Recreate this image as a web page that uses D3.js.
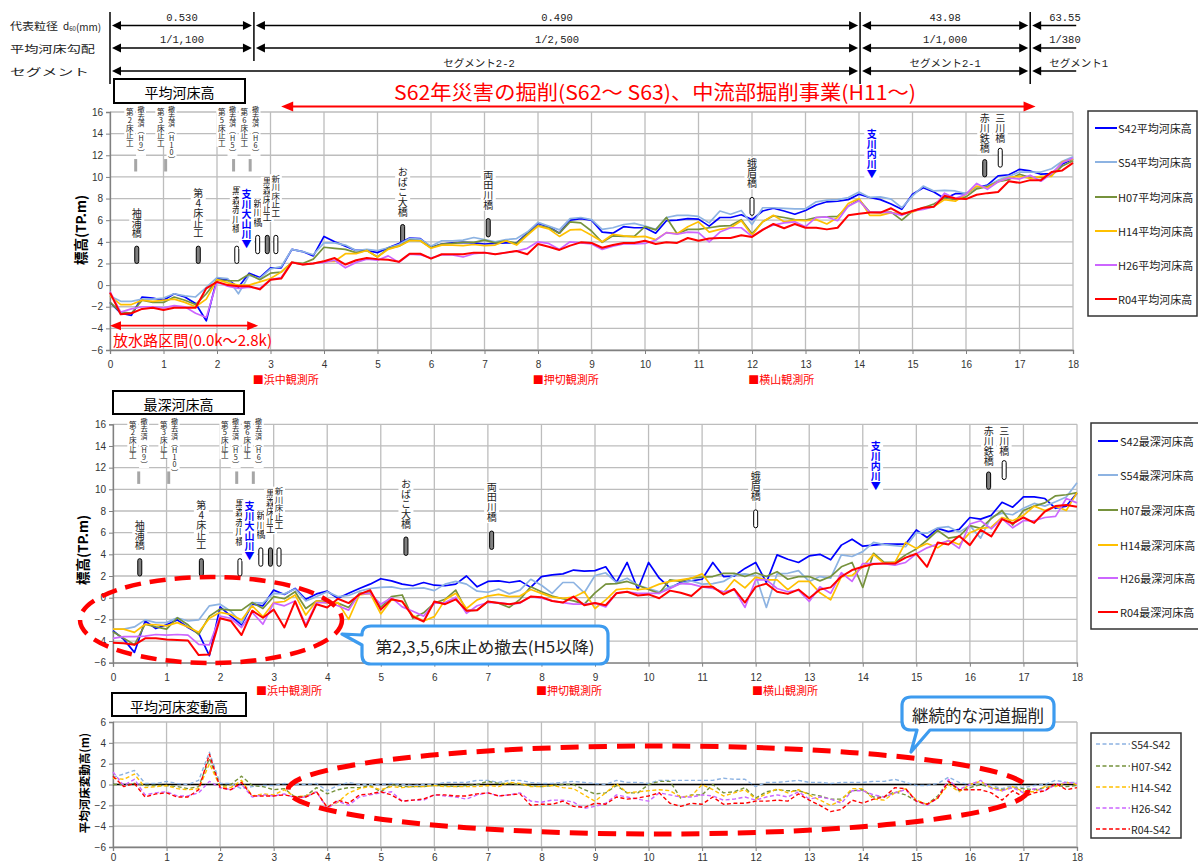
<!DOCTYPE html>
<html lang="ja">
<head>
<meta charset="utf-8">
<title>河床高縦断図</title>
<script src="https://cdn.jsdelivr.net/npm/d3@7/dist/d3.min.js"></script>
<style>
  html, body { margin: 0; padding: 0; background: #fff; }
  svg { display: block; }
  text { font-family: "Noto Sans CJK JP", "Noto Sans", sans-serif; }
  text.vert { writing-mode: vertical-rl; text-orientation: upright; }
</style>
</head>
<body>
<svg id="fig" width="1198" height="865"></svg>
<script>
// ---------------------------------------------------------------
// 距離標 (km)
const distanceKm = [
  0, 0.2, 0.4, 0.6, 0.8,  1, 1.2, 1.4, 1.6, 1.8,
  2, 2.2, 2.4, 2.6, 2.8,  3, 3.2, 3.4, 3.6, 3.8,
  4, 4.2, 4.4, 4.6, 4.8,  5, 5.2, 5.4, 5.6, 5.8,
  6, 6.2, 6.4, 6.6, 6.8,  7, 7.2, 7.4, 7.6, 7.8,
  8, 8.2, 8.4, 8.6, 8.8,  9, 9.2, 9.4, 9.6, 9.8,
  10, 10.2, 10.4, 10.6, 10.8,  11, 11.2, 11.4, 11.6, 11.8,
  12, 12.2, 12.4, 12.6, 12.8,  13, 13.2, 13.4, 13.6, 13.8,
  14, 14.2, 14.4, 14.6, 14.8,  15, 15.2, 15.4, 15.6, 15.8,
  16, 16.2, 16.4, 16.6, 16.8,  17, 17.2, 17.4, 17.6, 17.8,
  18
];

// 平均河床高 (T.P.m) — one row per km
const avgS42 = [
  -1.6, -2.6, -2.8, -1.1, -1.2,  -1.4, -0.8, -1.1, -1.7, -3.3,
  0.6, 0.5, -0.2, 1.1, 0.7,      1.6, 1.6, 3.3, 3.1, 2.7,
  4.5, 4.0, 3.6, 3.2, 3.2,       3.0, 3.45, 3.85, 4.35, 4.3,
  3.5, 3.8, 3.9, 3.95, 3.9,      3.8, 3.85, 3.9, 3.9, 4.8,
  5.7, 5.4, 4.8, 6.0, 6.15,      6.0, 4.9, 4.8, 5.4, 5.3,
  5.3, 4.8, 5.95, 6.0, 6.15,     6.1, 5.45, 6.25, 6.25, 6.5,
  6.05, 6.85, 7.1, 6.85, 6.55,   6.9, 7.4, 7.7, 7.75, 7.9,
  8.4, 8.1, 7.9, 7.5, 7.0,       8.4, 9.0, 8.6, 8.0, 8.45,
  8.45, 9.0, 9.25, 10.1, 10.2,   10.7, 10.55, 10.25, 10.3, 11.2,
  11.65
];
const avgS54 = [
  -1.0, -1.5, -1.5, -1.3, -1.3,  -1.2, -0.8, -1.0, -1.1, -0.2,
  0.7, 0.6, -0.8, 0.9, 0.6,      1.5, 1.7, 3.3, 3.1, 2.8,
  3.9, 3.9, 3.7, 3.2, 3.3,       3.2, 3.45, 3.75, 4.3, 4.25,
  3.6, 4.1, 4.1, 4.15, 4.4,      4.2, 4.0, 4.2, 4.3, 4.9,
  5.8, 5.45, 5.1, 6.15, 6.25,    6.05, 5.15, 5.3, 5.6, 5.7,
  5.45, 5.15, 6.25, 6.45, 6.45,  6.35, 5.75, 6.85, 6.55, 6.9,
  5.6, 7.15, 7.15, 7.1, 7.05,    7.05, 7.7, 7.85, 7.9, 8.1,
  8.6, 8.1, 8.15, 7.95, 7.15,    8.25, 9.15, 8.7, 8.75, 8.7,
  8.45, 9.0, 9.15, 9.7, 10.05,   10.45, 10.45, 10.45, 10.75, 11.45,
  11.85
];
const avgH07 = [
  -1.6, -2.5, -2.6, -1.4, -1.6,  -1.6, -1.1, -1.4, -1.8, -0.8,
  0.5, 0.4, 0.4, 1.0, 0.5,       1.1, 1.2, 2.1, 2.0, 2.4,
  3.5, 3.4, 3.3, 3.0, 3.2,       2.6, 3.4, 3.6, 4.15, 4.1,
  3.45, 3.8, 3.85, 3.95, 3.95,   4.15, 3.9, 4.1, 3.85, 4.7,
  5.5, 5.3, 4.8, 5.85, 5.75,     5.0, 3.95, 4.55, 4.5, 4.5,
  5.4, 5.1, 6.25, 4.75, 5.15,    5.15, 5.3, 5.45, 5.5, 6.05,
  4.75, 5.85, 6.4, 6.25, 6.05,   6.0, 6.25, 6.3, 6.35, 7.3,
  7.9, 6.75, 6.7, 6.75, 6.0,     6.85, 7.15, 7.5, 8.05, 7.9,
  8.15, 8.9, 9.1, 9.55, 9.75,    10.25, 9.95, 9.95, 10.15, 11.0,
  11.5
];
const avgH14 = [
  -1.0, -1.8, -1.8, -1.4, -1.5,  -1.4, -1.3, -1.6, -2.0, -1.3,
  0.5, 0.2, 0.0, 0.0, 0.3,       0.6, 1.2, 2.1, 1.9, 2.0,
  2.2, 2.2, 2.9, 2.9, 3.2,       2.6, 3.3, 3.6, 4.1, 4.1,
  3.4, 3.7, 3.7, 3.65, 3.75,     3.65, 3.7, 4.1, 3.7, 4.6,
  5.45, 5.2, 4.5, 5.1, 5.15,     4.6, 4.0, 4.7, 4.55, 4.45,
  4.5, 4.2, 4.85, 4.75, 5.4,     5.85, 4.9, 5.15, 5.3, 5.95,
  4.6, 5.85, 6.45, 5.85, 6.0,    5.95, 6.05, 5.65, 6.25, 7.55,
  8.0, 6.45, 6.45, 6.7, 6.6,     6.75, 7.1, 7.25, 7.9, 7.75,
  8.4, 9.15, 9.0, 9.55, 9.95,    10.05, 9.85, 10.05, 10.05, 11.4,
  11.65
];
const avgH26 = [
  -0.6, -2.5, -2.2, -2.0, -2.0,  -2.1, -1.9, -2.0, -2.6, -3.0,
  0.3, -0.1, -0.3, -0.2, -0.3,   0.5, 0.7, 2.1, 1.9, 2.0,
  2.1, 2.3, 1.6, 2.1, 2.4,       2.3, 2.7, 2.1, 2.85, 2.8,
  2.5, 2.8, 2.8, 2.6, 2.9,       3.0, 2.85, 3.0, 3.15, 3.4,
  4.0, 3.85, 3.3, 4.0, 3.9,      3.8, 3.3, 3.6, 3.8, 3.8,
  3.85, 4.15, 4.85, 4.7, 4.9,    4.85, 4.0, 4.9, 5.3, 5.3,
  4.5, 5.15, 5.55, 5.75, 5.85,   5.4, 6.25, 6.3, 5.95, 7.3,
  7.8, 6.75, 6.75, 6.7, 6.45,    6.85, 7.0, 7.25, 8.5, 8.0,
  8.4, 9.4, 8.85, 9.55, 9.9,     9.8, 10.15, 9.6, 10.3, 11.3,
  11.75
];
const avgR04 = [
  -0.7, -2.7, -2.6, -2.2, -2.1,  -2.3, -2.1, -2.1, -2.1, -0.3,
  0.3, 0.0, -0.1, -0.1, -0.4,    0.5, 0.6, 2.1, 1.9, 2.0,
  2.2, 2.5, 1.9, 2.3, 2.5,       2.4, 2.35, 2.15, 2.9, 2.9,
  2.45, 2.85, 2.85, 2.85, 3.0,   3.0, 2.85, 3.0, 3.15, 2.85,
  3.8, 3.55, 3.25, 3.65, 3.95,   3.9, 3.45, 3.7, 3.9, 3.9,
  4.1, 3.8, 3.95, 3.9, 4.35,     4.1, 4.3, 4.35, 4.35, 4.6,
  4.45, 5.1, 5.65, 5.25, 5.65,   5.3, 5.3, 5.15, 5.3, 6.45,
  6.6, 6.7, 6.7, 7.1, 6.55,      6.85, 7.15, 7.25, 8.25, 8.0,
  7.95, 8.35, 8.5, 8.6, 9.6,     9.45, 9.7, 9.7, 10.45, 10.6,
  11.3
];

// 最深河床高 (T.P.m)
const deepS42 = [
  -3.05, -3.85, -5.05, -2.15, -2.85,  -2.5, -2.05, -2.75, -3.3, -5.35,
  -0.85, -1.7, -2.5, -0.6, -0.75,     0.7, 0.3, 0.85, -0.15, 0.35,
  0.6, -0.05, 0.4, 0.85, 1.25,        1.75, 1.55, 1.25, 1.1, 1.4,
  1.15, 1.1, 1.25, 2.0, 1.0,          1.5, 1.55, 1.4, 1.55, 0.95,
  1.95, 2.1, 2.2, 2.55, 2.45,         2.5, 2.85, 1.4, 3.25, 0.75,
  3.25, 1.8, 0.9, 1.4, 1.55,          1.7, 3.25, 1.95, 2.0, 2.7,
  3.25, 1.4, 3.95, 3.55, 3.25,        3.85, 4.0, 3.5, 4.85, 5.4,
  4.75, 4.85, 4.95, 4.95, 4.95,       6.25, 5.55, 6.4, 6.1, 6.3,
  7.4, 7.25, 7.6, 8.8, 8.35,          9.3, 9.3, 9.15, 8.25, 8.45,
  9.65
];
const deepS54 = [
  -2.9, -2.9, -2.7, -2.05, -2.3,      -2.3, -1.85, -2.15, -2.05, -0.75,
  -0.6, -1.25, -2.35, -0.45, -0.5,    0.4, 0.35, 0.8, -0.3, 0.1,
  0.55, 0.1, 0.2, 0.6, 0.85,          0.95, 1.0, 0.8, 0.85, 0.9,
  0.65, 1.25, 1.5, 1.25, 0.6,         0.5, 0.8, 0.35, 0.7, 1.7,
  1.15, 0.4, 1.4, 1.4, 0.45,          2.05, 2.3, 1.4, 1.8, 1.15,
  0.85, 0.55, 1.0, 1.3, 1.55,         1.25, 1.3, 1.5, 2.1, 2.2,
  2.05, -0.9, 2.2, 2.25, 2.5,         1.5, 1.95, 1.8, 3.95, 3.8,
  4.25, 5.1, 4.9, 4.8, 4.7,           6.0, 5.95, 6.45, 6.55, 6.05,
  6.65, 5.5, 7.45, 7.8, 7.65,         8.25, 8.7, 8.45, 8.85, 9.3,
  10.6
];
const deepH07 = [
  -3.15, -3.75, -4.35, -2.45, -2.7,   -2.9, -1.85, -2.5, -3.4, -1.7,
  -1.05, -1.15, -1.15, -0.45, -1.0,   0.1, -0.1, 0.55, -1.0, -0.3,
  -0.35, -0.5, -0.9, 0.4, 0.55,       -0.9, 0.1, 0.25, -1.9, -1.4,
  -0.5, -0.15, 0.7, -1.2, -1.15,      -0.35, -0.5, -0.9, -0.15, 1.0,
  0.55, 0.15, -0.1, -0.3, -0.6,       0.45, 1.25, 1.3, 1.5, 1.15,
  0.75, 0.4, 1.65, 1.5, 1.8,          1.9, 1.95, 2.25, 2.25, 1.95,
  2.3, 1.95, 2.4, 1.7, 1.95,          1.95, 1.55, 1.95, 2.85, 3.25,
  0.95, 4.1, 3.25, 3.25, 3.95,        4.5, 5.3, 6.2, 5.5, 5.65,
  6.65, 6.4, 7.3, 8.05, 6.7,          8.05, 8.45, 8.75, 9.4, 9.5,
  9.7
];
const deepH14 = [
  -2.9, -2.9, -3.2, -2.45, -2.5,      -2.6, -2.3, -2.7, -3.2, -1.9,
  -1.35, -1.55, -2.05, -0.75, -1.75,  -0.45, -0.35, 0.25, -1.6, -0.3,
  -0.5, -0.45, -2.0, 0.25, 0.4,       -1.5, -0.2, -0.35, -1.65, -2.15,
  -1.75, -0.2, 0.4, -1.0, -0.2,       0.15, 0.3, 0.1, 0.15, 0.75,
  0.4, 0.05, -0.05, 0.05, 0.55,       -1.0, -0.2, 0.75, 0.85, 0.75,
  0.85, 1.25, 1.5, 1.65, 1.8,         2.2, 0.9, 0.45, 1.65, 0.9,
  1.9, 1.65, 1.65, 0.75, 1.5,         1.5, 0.45, -0.2, 1.95, 2.05,
  2.85, 4.0, 3.15, 3.25, 5.1,         4.55, 5.0, 4.6, 5.3, 4.9,
  6.0, 6.4, 6.5, 7.4, 7.1,            7.6, 8.45, 8.05, 8.45, 8.05,
  9.7
];
const deepH26 = [
  -3.75, -3.6, -3.6, -3.55, -3.4,     -3.45, -3.4, -3.45, -4.3, -4.35,
  -1.7, -1.9, -2.75, -1.35, -2.45,    -0.5, -0.75, -0.3, -2.5, -0.45,
  -0.45, -0.75, -1.15, 0.35, 0.4,     -0.6, 0.0, -0.85, -1.25, -1.7,
  -0.5, -0.45, 0.05, -1.45, -0.75,    -0.45, -0.45, -0.6, -0.5, 0.1,
  -0.05, -0.3, -0.45, -0.6, -0.6,     -0.5, -0.85, 0.45, 0.55, 0.4,
  0.4, 0.4, 0.85, 1.3, 1.25,          1.0, 0.85, 0.55, 0.75, -0.9,
  1.65, 1.65, 0.85, 0.55, 0.7,        -0.35, 1.0, 0.4, 2.3, 1.5,
  3.15, 3.15, 3.15, 3.0, 3.25,        4.05, 4.6, 4.95, 5.25, 4.55,
  6.8, 7.1, 6.35, 7.3, 6.45,          7.1, 7.1, 7.4, 7.5, 9.15,
  8.75
];
const deepR04 = [
  -4.15, -4.2, -4.35, -3.75, -3.75,   -3.85, -3.9, -3.95, -5.3, -5.25,
  -1.9, -2.15, -3.45, -1.2, -1.85,    -1.1, -2.75, -0.35, -2.7, -0.6,
  -0.9, -0.1, -0.5, 0.3, 0.7,         -1.1, -0.15, -0.35, -1.75, -2.2,
  -0.35, -0.6, -0.15, -1.2, -1.15,    -0.35, -0.5, -0.6, -0.45, 0.1,
  0.05, -0.3, -0.45, 0.1, -0.7,       -0.5, -0.7, 0.4, 0.55, 0.2,
  0.3, -0.05, 0.65, 0.45, 0.15,       1.0, 1.0, 0.3, 0.8, -0.45,
  1.0, 1.3, 0.55, 0.35, 0.75,         -0.05, 0.75, 0.95, 1.95, 2.55,
  2.85, 3.1, 3.15, 3.15, 3.7,         4.05, 2.85, 5.1, 4.9, 5.7,
  4.85, 6.25, 5.65, 7.25, 6.85,       7.4, 6.9, 7.95, 8.45, 8.55,
  8.4
];

// 平均河床変動高 (m) — change from S42
const diffS54 = [
  0.7, 1.0, 1.35, 0.1, 0.1,     0.3, 0.1, 0.0, 0.4, 3.1,
  0.1, 0.1, -0.4, -0.2, -0.1,   -0.1, 0.1, 0.0, 0.0, 0.1,
  -0.6, -0.1, 0.2, 0.0, 0.0,    0.0, 0.1, 0.0, -0.1, 0.0,
  0.0, 0.2, 0.2, 0.2, 0.4,      0.4, 0.2, 0.4, 0.4, 0.2,
  0.1, 0.1, 0.2, 0.3, 0.2,      0.1, 0.0, 0.4, 0.2, 0.2,
  0.1, 0.4, 0.4, 0.4, 0.4,      0.4, 0.4, 0.6, 0.5, 0.5,
  -0.2, 0.2, 0.2, 0.3, 0.4,     0.2, 0.2, 0.1, 0.2, 0.2,
  0.2, 0.3, 0.3, 0.5, 0.2,      -0.1, -0.1, 0.1, 0.7, 0.2,
  0.0, 0.0, -0.1, -0.4, -0.1,   -0.3, -0.1, 0.0, 0.4, 0.2,
  0.2
];
const diffH07 = [
  0.0, 0.0, 0.1, -0.1, -0.1,    -0.1, -0.2, -0.4, -0.2, 2.5,
  -0.2, 0.0, 0.8, -0.1, -0.2,   -0.5, -0.4, -1.2, -1.1, -0.3,
  -0.9, -0.5, -0.3, -0.3, -0.1, -0.7, 0.0, -0.2, -0.2, -0.2,
  -0.1, -0.1, -0.2, -0.1, 0.0,  0.3, 0.1, 0.1, 0.0, -0.1,
  -0.2, -0.1, 0.0, 0.0, -0.5,   -0.9, -0.8, -0.1, -0.8, -0.8,
  0.0, 0.3, 0.3, -1.3, -1.0,    -1.0, 0.0, -0.8, -0.7, -0.3,
  -1.3, -0.7, -0.5, -0.6, -0.6, -0.9, -1.1, -1.4, -1.4, -0.6,
  -0.5, -1.2, -1.2, -0.7, -1.0, -1.6, -1.9, -1.1, 0.3, -0.6,
  -0.3, 0.0, -0.3, -0.5, -0.3,  -0.4, -0.5, -0.3, -0.1, -0.2,
  -0.1
];
const diffH14 = [
  0.6, 0.5, 1.0, -0.3, -0.2,    -0.1, -0.4, -0.5, -0.4, 2.0,
  -0.2, -0.3, 0.4, -1.1, -0.9,  -1.0, -0.5, -1.2, -1.1, -0.7,
  -2.2, -1.7, -0.8, -0.4, -0.2, -0.5, -0.2, -0.3, -0.2, -0.2,
  -0.1, -0.2, -0.2, -0.2, -0.2, -0.1, -0.2, 0.2, 0.1, -0.2,
  -0.2, -0.1, -0.3, -0.4, -1.0, -1.6, -0.8, 0.1, -0.8, -0.7,
  -0.6, -0.5, -0.6, -1.2, -1.1, 0.0, -0.5, -1.1, -0.8, -0.5,
  -1.4, -0.9, -0.4, -0.8, -0.5, -1.0, -1.5, -2.0, -1.5, -0.4,
  -0.4, -1.4, -1.5, -0.8, -0.4, -1.5, -1.9, -1.3, 0.0, -0.7,
  0.0, 0.3, -0.3, -0.6, -0.2,   -0.7, -0.7, -0.2, -0.2, 0.2,
  0.0
];
const diffH26 = [
  1.2, -0.1, 0.5, -1.0, -0.8,   -0.7, -1.1, -1.1, -0.8, 0.3,
  -0.3, -0.5, 0.0, -1.2, -1.0,  -1.1, -0.9, -1.3, -1.2, -0.7,
  -2.3, -1.6, -2.0, -1.2, -1.0, -0.8, -0.7, -1.6, -1.5, -1.5,
  -1.0, -1.1, -1.2, -1.4, -1.0, -0.8, -1.1, -1.0, -0.8, -1.6,
  -1.7, -1.5, -1.5, -1.7, -2.3, -2.1, -1.8, -1.0, -1.2, -1.4,
  -1.6, -0.8, -1.0, -1.2, -1.2, -1.0, -1.1, -1.5, -1.4, -1.2,
  -1.5, -1.2, -1.0, -1.2, -0.7, -1.4, -1.2, -1.4, -1.8, -0.6,
  -0.6, -1.0, -1.2, -0.8, -0.5, -1.6, -2.0, -1.3, 0.5, -0.5,
  0.0, 0.4, -0.4, -0.6, -0.3,   -0.8, -0.4, -0.6, 0.0, 0.2,
  0.1
];
const diffR04 = [
  0.8, -0.2, 0.1, -1.2, -0.9,   -0.8, -1.2, -1.2, -0.5, 2.9,
  -0.3, -0.5, 0.2, -1.1, -1.1,  -1.1, -1.0, -1.2, -1.2, -0.7,
  -2.2, -1.5, -1.8, -1.0, -0.9, -0.7, -1.0, -1.6, -1.5, -1.4,
  -1.0, -1.0, -1.1, -1.1, -0.9, -0.8, -1.1, -1.0, -0.9, -2.0,
  -1.9, -1.9, -1.6, -2.1, -2.2, -1.8, -1.9, -1.2, -1.4, -1.3,
  -1.1, -0.8, -1.8, -2.1, -1.8, -1.9, -1.2, -1.9, -1.8, -1.8,
  -1.6, -1.6, -1.5, -1.6, -0.9, -1.5, -2.0, -2.6, -2.4, -1.5,
  -1.8, -1.4, -1.2, -0.3, -0.4, -1.6, -1.9, -1.3, 0.3, -0.5,
  -0.5, -0.5, -0.8, -1.5, -0.6, -1.2, -0.8, -0.6, 0.1, -0.5,
  -0.3
];

// axis ticks
const xTicks = [0, 1, 2, 3, 4, 5, 6, 7, 8, 9, 10, 11, 12, 13, 14, 15, 16, 17, 18];
const elevTicks = [16, 14, 12, 10, 8, 6, 4, 2, 0, -2, -4, -6];
const diffTicks = [6, 4, 2, 0, -2, -4, -6];

// legends
const avgLegend = ["S42平均河床高", "S54平均河床高", "H07平均河床高", "H14平均河床高", "H26平均河床高", "R04平均河床高"];
const deepLegend = ["S42最深河床高", "S54最深河床高", "H07最深河床高", "H14最深河床高", "H26最深河床高", "R04最深河床高"];
const diffLegend = ["S54-S42", "H07-S42", "H14-S42", "H26-S42", "R04-S42"];

// reach properties (boundaries in km)
const reachBreaksKm = [0, 2.69, 14.02, 17.2];
const grainSize = ["0.530", "0.490", "43.98", "63.55"];
const bedSlope = ["1/1,100", "1/2,500", "1/1,000", "1/380"];
const segmentNames = ["セグメント2-2", "セグメント2-1", "セグメント1"];

// gauging stations, bridges, weirs, tributaries
const stations = [
  { name: "浜中観測所", km: 2.67 },
  { name: "押切観測所", km: 7.9 },
  { name: "横山観測所", km: 11.93 }
];
const structures = [
  { name: "袖浦橋", km: 0.5 },
  { name: "第4床止工", km: 1.65 },
  { name: "黒森赤川橋", km: 2.37 },
  { name: "新川橋", km: 2.76 },
  { name: "黒森床止工", km: 2.94 },
  { name: "新川床止工", km: 3.1 },
  { name: "おばこ大橋", km: 5.47 },
  { name: "両田川橋", km: 7.07 },
  { name: "蛾眉橋", km: 12.0 },
  { name: "赤川鉄橋", km: 16.35 },
  { name: "三川橋", km: 16.64 }
];
const removedWeirs = [
  { name: "第2床止工", note: "撤去済(H9)", km: 0.48 },
  { name: "第3床止工", note: "撤去済(H10)", km: 1.04 },
  { name: "第5床止工", note: "撤去済(H5)", km: 2.31 },
  { name: "第6床止工", note: "撤去済(H6)", km: 2.62 }
];
const tributaries = [
  { name: "支川大山川", km: 2.55 },
  { name: "支川内川", km: 14.24 }
];

// ---------------------------------------------------------------
// drawing styles and layout
const seriesColors = ["#0000ff", "#8db3e2", "#76923c", "#ffc000", "#cc66ff", "#ff0000"];
const diffColors = seriesColors.slice(1);
const GRID = "#bdbdbd";
const NUM_FONT = '"Liberation Sans", Arial, sans-serif';

// label placement in elevation units: text top, marker top/bottom
const structureLayout = {
  "袖浦橋":     { text: 7.15,  bar: [3.6, 2.0],   fill: "#808080", size: 10 },
  "第4床止工":  { text: 9.0,   bar: [3.6, 2.0],   fill: "#808080", size: 10 },
  "黒森赤川橋": { text: 9.15,  bar: [3.6, 2.0],   fill: "#ffffff", size: 9.5 },
  "新川橋":     { text: 8.0,   bar: [4.6, 2.9],   fill: "#ffffff", size: 9.5 },
  "黒森床止工": { text: 10.0,  bar: [4.6, 2.9],   fill: "#808080", size: 9 },
  "新川床止工": { text: 10.25, bar: [4.6, 2.9],   fill: "#ffffff", size: 8.5 },
  "おばこ大橋": { text: 10.9,  bar: [5.6, 3.9],   fill: "#808080", size: 10 },
  "両田川橋":   { text: 10.65, bar: [6.15, 4.45], fill: "#808080", size: 10 },
  "蛾眉橋":     { text: 11.7,  bar: [8.1, 6.45],  fill: "#ffffff", size: 10 },
  "赤川鉄橋":   { text: 15.85, bar: [11.6, 10.0], fill: "#808080", size: 10 },
  "三川橋":     { text: 15.85, bar: [12.65, 10.9], fill: "#ffffff", size: 10 }
};
const weirLayout = {
  "第2床止工": { nameKm: 0.37, noteKm: 0.58 },
  "第3床止工": { nameKm: 0.95, noteKm: 1.15 },
  "第5床止工": { nameKm: 2.09, noteKm: 2.29 },
  "第6床止工": { nameKm: 2.51, noteKm: 2.72 }
};
const tributaryLayout = { "支川大山川": 8.9, "支川内川": 14.4 };

const svg = d3.select("#fig");

// ---------------------------------------------------------------
function addText(g, x, y, str, opt = {}) {
  const t = g.append("text")
    .attr("x", x).attr("y", y)
    .attr("font-size", opt.size || 11)
    .attr("fill", opt.fill || "#000")
    .attr("text-anchor", opt.anchor || "start")
    .text(str);
  if (opt.weight) t.attr("font-weight", opt.weight);
  if (opt.family) t.style("font-family", opt.family);
  if (opt.baseline) t.attr("dominant-baseline", opt.baseline);
  if (opt.length) t.attr("textLength", opt.length).attr("lengthAdjust", "spacingAndGlyphs");
  return t;
}

// vertical (top-to-bottom) label on a white ground
function vLabel(g, x, yTop, str, opt) {
  const bg = g.append("rect").attr("fill", "#fff");
  const t = g.append("text")
    .attr("class", "vert")
    .attr("x", x).attr("y", yTop)
    .attr("font-size", opt.size)
    .attr("fill", opt.fill || "#222")
    .text(str.replace("(", "（").replace(")", "）"));
  if (opt.weight) t.attr("font-weight", opt.weight);
  if (opt.spacing) t.attr("letter-spacing", opt.spacing);
  const b = t.node().getBBox();
  bg.attr("x", b.x).attr("y", b.y).attr("width", b.width).attr("height", b.height);
  return b.y + b.height;
}

function arrowHead(g, x, y, dir, len, half, color) {
  g.append("path")
    .attr("d", `M${x},${y} L${x - dir * len},${y - half} L${x - dir * len},${y + half} Z`)
    .attr("fill", color);
}

// horizontal arrow; heads: "both" | "left"
function hArrow(g, x1, x2, y, heads, color, width, len, half) {
  const a = heads === "both" || heads === "left" ? len : 0;
  const b = heads === "both" ? len : 0;
  g.append("line")
    .attr("x1", x1 + a * 0.8).attr("x2", x2 - b * 0.8)
    .attr("y1", y).attr("y2", y)
    .attr("stroke", color).attr("stroke-width", width);
  if (a) arrowHead(g, x1, y, -1, len, half, color);
  if (b) arrowHead(g, x2, y, 1, len, half, color);
}

function titleBox(g, x, y, w, h, label) {
  g.append("rect").attr("x", x).attr("y", y).attr("width", w).attr("height", h)
    .attr("fill", "#fff").attr("stroke", "#000").attr("stroke-width", 2);
  addText(g, x + w / 2, y + h / 2 + 1, label, { size: 14, anchor: "middle", baseline: "central" });
}

// one chart panel with grid, axes and series lines
function panel(cfg) {
  const g = svg.append("g");
  const x = d3.scaleLinear().domain([0, 18]).range([cfg.left, cfg.right]);
  const y = d3.scaleLinear().domain(cfg.domain).range([cfg.bottom, cfg.top]);

  const grid = g.append("g");
  grid.selectAll("line.h").data(cfg.yTicks).join("line")
    .attr("x1", cfg.left).attr("x2", cfg.right)
    .attr("y1", d => y(d)).attr("y2", d => y(d))
    .attr("stroke", GRID).attr("stroke-width", 1.3);
  grid.selectAll("line.v").data(xTicks).join("line")
    .attr("x1", d => x(d)).attr("x2", d => x(d))
    .attr("y1", cfg.top).attr("y2", cfg.bottom)
    .attr("stroke", GRID).attr("stroke-width", 1.3);

  const yAxis = d3.axisLeft(y).tickValues(cfg.yTicks).tickSize(4).tickPadding(3);
  const xAxis = d3.axisBottom(x).tickValues(xTicks).tickSize(4).tickPadding(cfg.xPad);
  const ya = g.append("g").attr("transform", `translate(${cfg.left},0)`).call(yAxis);
  const xa = g.append("g").attr("transform", `translate(0,${cfg.bottom})`).call(xAxis);
  [ya, xa].forEach(a => {
    a.select(".domain").attr("stroke", "#808080").attr("stroke-width", 1.3);
    a.selectAll(".tick line").attr("stroke", "#808080");
    a.selectAll(".tick text").attr("fill", "#333").attr("font-size", 10).style("font-family", NUM_FONT);
  });

  if (cfg.zeroLine) {
    g.append("line").attr("x1", cfg.left).attr("x2", cfg.right)
      .attr("y1", y(0)).attr("y2", y(0))
      .attr("stroke", "#000").attr("stroke-width", 1.5);
  }
  return { g, x, y };
}

function drawSeries(p, list) {
  const line = d3.line().x((d, i) => p.x(distanceKm[i])).y(d => p.y(d));
  list.forEach(s => {
    p.g.append("path").datum(s.values)
      .attr("d", line)
      .attr("fill", "none")
      .attr("stroke", s.color)
      .attr("stroke-width", s.width || 1.7)
      .attr("stroke-dasharray", s.dash || null)
      .attr("stroke-linejoin", "round");
  });
}

function legend(g, box, entries, colors, rows, opt) {
  g.append("rect").attr("x", box[0]).attr("y", box[1]).attr("width", box[2]).attr("height", box[3])
    .attr("fill", "#fff").attr("stroke", "#333").attr("stroke-width", 1.5);
  entries.forEach((name, i) => {
    g.append("line").attr("x1", opt.x1).attr("x2", opt.x2).attr("y1", rows[i]).attr("y2", rows[i])
      .attr("stroke", colors[i]).attr("stroke-width", opt.width)
      .attr("stroke-dasharray", opt.dash || null);
    addText(g, opt.tx, rows[i], name, { size: opt.size, baseline: "central", fill: "#222" });
  });
}

function structureMarks(p) {
  const g = p.g.append("g");
  // removed weirs
  removedWeirs.forEach(w => {
    const L = weirLayout[w.name];
    vLabel(g, p.x(L.nameKm), p.y(16.3), w.name, { size: 7.6 });
    vLabel(g, p.x(L.noteKm), p.y(16.6), w.note, { size: 7.2 });
    g.append("line")
      .attr("x1", p.x(w.km)).attr("x2", p.x(w.km))
      .attr("y1", p.y(11.65)).attr("y2", p.y(10.5))
      .attr("stroke", "#a6a6a6").attr("stroke-width", 3);
  });
  // bridges and existing weirs
  structures.forEach(s => {
    const L = structureLayout[s.name];
    const cx = p.x(s.km);
    vLabel(g, cx, p.y(L.text), s.name, { size: L.size });
    g.append("rect")
      .attr("x", cx - 2).attr("y", p.y(L.bar[0]))
      .attr("width", 4).attr("height", p.y(L.bar[1]) - p.y(L.bar[0]))
      .attr("rx", 2).attr("ry", 2)
      .attr("fill", L.fill).attr("stroke", "#000").attr("stroke-width", 1);
  });
  // tributary confluences
  tributaries.forEach(t => {
    vLabel(g, p.x(t.km), p.y(tributaryLayout[t.name]), t.name + "▼",
      { size: 10, fill: "#0000ff", weight: "bold" });
  });
}

function stationLabels(g, x, yBase) {
  stations.forEach(s => addText(g, x(s.km), yBase, "■" + s.name, { size: 11, fill: "#ff0000" }));
}

function callout(g, box, tail, tip, side, label, fontSize, textLen) {
  const [x, y, w, h] = box, r = 9;
  let d = `M${x + r},${y} H${x + w - r} Q${x + w},${y} ${x + w},${y + r} V${y + h - r} Q${x + w},${y + h} ${x + w - r},${y + h}`;
  if (side === "bottom") {
    d += ` H${tail[1]} L${tip[0]},${tip[1]} L${tail[0]},${y + h} H${x + r} Q${x},${y + h} ${x},${y + h - r} V${y + r} Q${x},${y} ${x + r},${y} Z`;
  } else {
    d += ` H${x + r} Q${x},${y + h} ${x},${y + h - r} V${tail[1]} L${tip[0]},${tip[1]} L${x},${tail[0]} V${y + r} Q${x},${y} ${x + r},${y} Z`;
  }
  g.append("path").attr("d", d).attr("fill", "#fff").attr("stroke", "#3d9bef").attr("stroke-width", 3.2)
    .attr("stroke-linejoin", "round");
  addText(g, x + w / 2, y + h / 2 + 1, label,
    { size: fontSize, anchor: "middle", baseline: "central", fill: "#222", length: textLen });
}

// ---------------------------------------------------------------
// header: reach properties
const head = svg.append("g");
const topX = d3.scaleLinear().domain([0, 18]).range([110, 1073]);
const breaksPx = reachBreaksKm.map(k => topX(k));
const headEnd = topX(18.06);
const rowY = [25.5, 48, 71];

addText(head, 10, rowY[0], "代表粒径", { size: 10, baseline: "central", length: 48, fill: "#222" });
const dText = addText(head, 63, rowY[0], "d", { size: 10, baseline: "central", fill: "#222" });
dText.append("tspan").attr("font-size", 6).attr("dy", 2).text("60");
dText.append("tspan").attr("dy", -2).text("(mm)");
addText(head, 10, rowY[1], "平均河床勾配", { size: 10, baseline: "central", length: 85, fill: "#222" });
addText(head, 10, rowY[2], "セグメント", { size: 10, baseline: "central", length: 79, fill: "#222" });

// boundary ticks
[[breaksPx[0], 84], [breaksPx[1], 61], [breaksPx[2], 84], [breaksPx[3], 84]].forEach(([bx, by]) => {
  head.append("line").attr("x1", bx).attr("x2", bx).attr("y1", 12).attr("y2", by)
    .attr("stroke", "#000").attr("stroke-width", 1.5);
});

const HF = '"Liberation Mono", "Noto Sans CJK JP", monospace';
[grainSize, bedSlope].forEach((vals, r) => {
  const y = rowY[r];
  const spans = [[breaksPx[0], breaksPx[1]], [breaksPx[1], breaksPx[2]], [breaksPx[2], breaksPx[3]]];
  spans.forEach(([a, b], i) => {
    hArrow(head, a + 2, b - 2, y, "both", "#000", 1.6, 9, 4.5);
    addText(head, (a + b) / 2, y - 5, vals[i], { size: 10.5, anchor: "middle", family: HF, fill: "#222" });
  });
  hArrow(head, breaksPx[3] + 2, headEnd, y, "left", "#000", 1.6, 9, 4.5);
  addText(head, breaksPx[3] + 19, y - 5, vals[3], { size: 10.5, family: HF, fill: "#222" });
});
hArrow(head, breaksPx[0] + 2, breaksPx[2] - 2, rowY[2], "both", "#000", 1.6, 9, 4.5);
addText(head, (breaksPx[0] + breaksPx[2]) / 2 - 6, rowY[2] - 4, segmentNames[0], { size: 10.5, anchor: "middle", family: HF, fill: "#222" });
hArrow(head, breaksPx[2] + 2, breaksPx[3] - 2, rowY[2], "both", "#000", 1.6, 9, 4.5);
addText(head, (breaksPx[2] + breaksPx[3]) / 2, rowY[2] - 4, segmentNames[1], { size: 10.5, anchor: "middle", family: HF, fill: "#222" });
hArrow(head, breaksPx[3] + 2, headEnd, rowY[2], "left", "#000", 1.6, 9, 4.5);
addText(head, breaksPx[3] + 19, rowY[2] - 4, segmentNames[2], { size: 10.5, family: HF, fill: "#222" });

// ---------------------------------------------------------------
// 平均河床高
const pAvg = panel({ left: 110, right: 1073, top: 112, bottom: 350, domain: [-6, 16], yTicks: elevTicks, xPad: 7 });
structureMarks(pAvg);
drawSeries(pAvg, [avgS42, avgS54, avgH07, avgH14, avgH26, avgR04].map((v, i) => ({
  values: v, color: seriesColors[i], width: i === 5 ? 2 : 1.7
})));
titleBox(svg, 114, 79, 131, 24, "平均河床高");
addText(svg, 80, 230, "標高(TP.m)", { size: 13.5, anchor: "middle", baseline: "central", weight: "bold" })
  .attr("transform", "rotate(-90 80 230)");
legend(svg, [1088, 111, 109, 205], avgLegend, seriesColors, [128, 162, 197, 231, 265, 299],
  { x1: 1095, x2: 1117, tx: 1118, size: 11, width: 2 });
stationLabels(svg, pAvg.x, 384);

// excavation work span
hArrow(svg, pAvg.x(3.2), pAvg.x(17.3), 106.5, "both", "#ff0000", 2, 12, 5);
addText(svg, 655, 100, "S62年災害の掘削(S62～ S63)、中流部掘削事業(H11～)",
  { size: 20, anchor: "middle", fill: "#ff0000", length: 522 });
// floodway span
hArrow(svg, pAvg.x(0), pAvg.x(2.77), 325.7, "both", "#ff0000", 1.8, 11, 4.5);
addText(svg, 113, 346, "放水路区間(0.0k～2.8k)", { size: 15, fill: "#ff0000", length: 159 });

// ---------------------------------------------------------------
// 最深河床高
const pDeep = panel({ left: 113, right: 1077, top: 424.3, bottom: 662.7, domain: [-6, 16], yTicks: elevTicks, xPad: 7 });
structureMarks(pDeep);
drawSeries(pDeep, [deepS42, deepS54, deepH07, deepH14, deepH26, deepR04].map((v, i) => ({
  values: v, color: seriesColors[i], width: i === 5 ? 2 : 1.7
})));
titleBox(svg, 113, 391, 131, 23, "最深河床高");
addText(svg, 82, 550, "標高(TP.m)", { size: 13.5, anchor: "middle", baseline: "central", weight: "bold" })
  .attr("transform", "rotate(-90 82 550)");
legend(svg, [1091, 423, 110, 206], deepLegend, seriesColors, [441, 475, 510, 545, 578, 612],
  { x1: 1098, x2: 1118, tx: 1120, size: 11, width: 2 });
stationLabels(svg, pDeep.x, 695);

// removed weirs area
svg.append("ellipse").attr("cx", 211).attr("cy", 620).attr("rx", 131).attr("ry", 43)
  .attr("fill", "none").attr("stroke", "#ff0000").attr("stroke-width", 4.5).attr("stroke-dasharray", "16,9");
callout(svg, [362, 626, 246, 38], [635, 645], [342, 634], "left", "第2,3,5,6床止め撤去(H5以降)", 16, 219);

// ---------------------------------------------------------------
// 平均河床変動高
const pDiff = panel({ left: 113, right: 1077, top: 722, bottom: 847, domain: [-6, 6], yTicks: diffTicks, zeroLine: true, xPad: 3 });
drawSeries(pDiff, [diffS54, diffH07, diffH14, diffH26, diffR04].map((v, i) => ({
  values: v, color: diffColors[i], width: 1.4, dash: "4,2.5"
})));
titleBox(svg, 112, 693, 134, 23, "平均河床変動高");
addText(svg, 84, 783, "平均河床変動高(m)", { size: 11.5, anchor: "middle", baseline: "central", weight: "bold" })
  .attr("transform", "rotate(-90 84 783)");
legend(svg, [1091, 733, 90, 105], diffLegend, diffColors, [744, 766, 787, 808, 829],
  { x1: 1096, x2: 1130, tx: 1131, size: 10.5, width: 1.4, dash: "4,2.5" });

svg.append("ellipse").attr("cx", 658).attr("cy", 790).attr("rx", 370).attr("ry", 44)
  .attr("fill", "none").attr("stroke", "#ff0000").attr("stroke-width", 5).attr("stroke-dasharray", "18,10");
callout(svg, [902, 697, 152, 33], [917, 930], [911, 752], "bottom", "継続的な河道掘削", 16.5, 132);
</script>
</body>
</html>
